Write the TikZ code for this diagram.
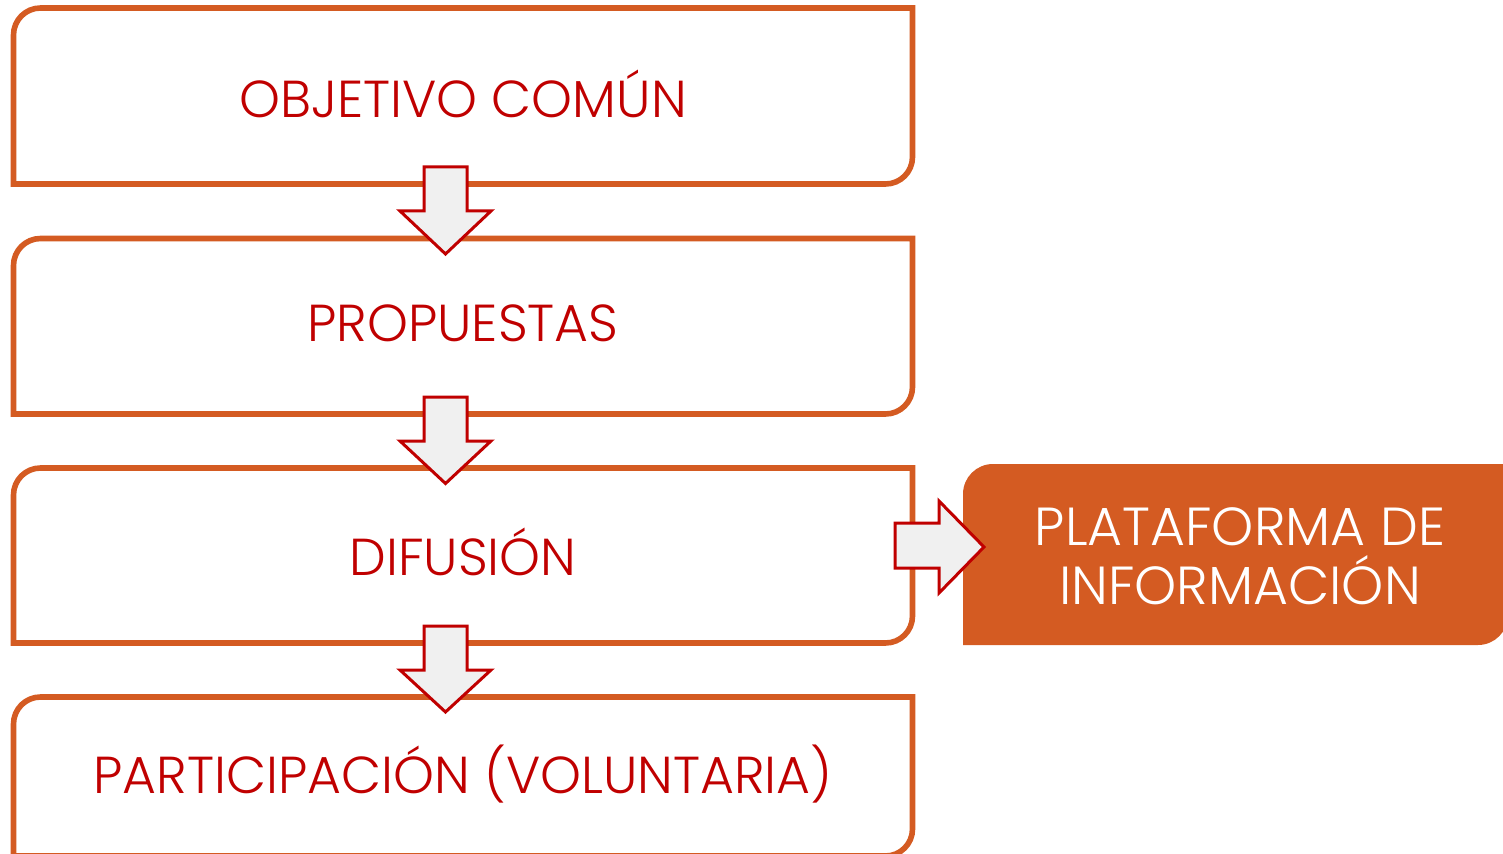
\documentclass[tikz,border=0pt]{standalone}
\usepackage{fontspec}
\setmainfont{Poppins}[UprightFont=* Light]
\definecolor{boxorange}{HTML}{D45B22}
\definecolor{txtred}{HTML}{C00000}
\definecolor{arrfill}{HTML}{F0F0F0}
\begin{document}
\begin{tikzpicture}[x=0.5pt,y=0.5pt,
  frame/.style={draw=boxorange,line width=2.8pt,fill=white},
  blockarrow/.style={draw=txtred,line width=1.5pt,fill=arrfill,line join=miter},
  label/.style={text=txtred,font=\fontsize{26}{30}\selectfont,inner sep=0pt},
  rlabel/.style={text=white,font=\fontsize{26.8}{29.5}\selectfont,inner sep=0pt,align=center}]
\useasboundingbox (0,0) rectangle (1503,853);
\clip (0,0) rectangle (1503,853);
% left boxes: round top-left and bottom-right corners
\foreach \t/\b in {845/669, 614.5/439, 385/210, 156/-3}{
  \draw[frame] (13.5,\b) -- (13.5,\t-27) arc[start angle=180,end angle=90,radius=13.5pt]
    -- (912.5,\t) -- (912.5,\b+27) arc[start angle=0,end angle=-90,radius=13.5pt] -- cycle;
}
% right box
\fill[boxorange] (963,208) -- (963,389-30) arc[start angle=180,end angle=90,radius=15pt]
  -- (1508,389) -- (1508,208+30) arc[start angle=0,end angle=-90,radius=15pt] -- cycle;
% text
\node[label] (t1) at (463,759) {OBJETIVO COMÚN};
\node[label] (t2) at (463,530) {PROPUESTAS};
\node[label] (t3) at (463,301) {DIFUSIÓN};
\node[label] (t4) at (463,79) {PARTICIPACIÓN (VOLUNTARIA)};
\node[rlabel] (r1) at (1240,297) {PLATAFORMA DE\\INFORMACIÓN};
% down arrows
\foreach \s/\h/\p in {686/642/599, 456/412/369.5, 227/183/141}{
  \draw[blockarrow] (424,\s) -- (467,\s) -- (467,\h) -- (491,\h) -- (445.5,\p)
    -- (400,\h) -- (424,\h) -- cycle;
}
% right arrow
\draw[blockarrow] (895,330) -- (939,330) -- (939,352) -- (984,306) -- (939,260)
  -- (939,285) -- (895,285) -- cycle;
\end{tikzpicture}
\end{document}
